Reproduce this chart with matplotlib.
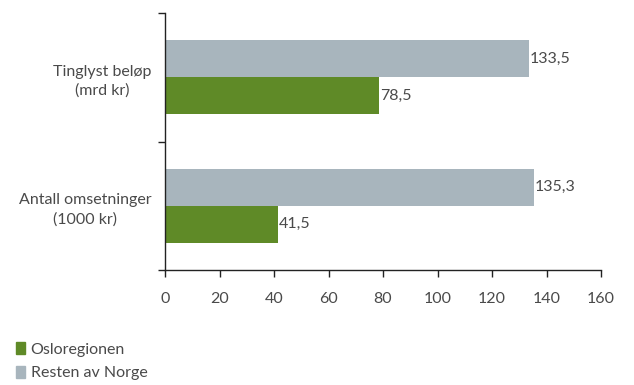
import matplotlib.pyplot as plt
from matplotlib.patches import Patch

categories = ["Antall omsetninger\n(1000 kr)", "Tinglyst beløp\n(mrd kr)"]
oslo = [41.5, 78.5]
resten = [135.3, 133.5]
xticks = [0, 20, 40, 60, 80, 100, 120, 140, 160]

green = "#5f8a27"
grey = "#a8b5bd"
txt = "#4a4a4a"
fs = 11.5

plt.rcParams["font.family"] = ["Lato", "DejaVu Sans"]

fig = plt.figure(figsize=(6.34, 3.85), dpi=100)
ax = fig.add_axes([0.2603, 0.2987, 0.948 - 0.2603, 0.966 - 0.2987])

y = list(range(len(categories)))
h = 0.29
off = 0.144
ax.barh([v - off for v in y], oslo, height=h, color=green)
ax.barh([v + off for v in y], resten, height=h, color=grey)

def fmt(v):
    return f"{v:.1f}".replace(".", ",")

for yi, a, b in zip(y, oslo, resten):
    ax.text(a + 0.3, yi - off, fmt(a), va="center", ha="left", fontsize=fs, color=txt)
    ax.text(b + 0.3, yi + off, fmt(b), va="center", ha="left", fontsize=fs, color=txt)

ax.set_xlim(0, 160)
ax.set_ylim(-0.5, 1.5)
ax.set_xticks(xticks)
ax.set_xticklabels([str(t) for t in xticks], fontsize=fs, color=txt)
ax.set_yticks(y)
ax.set_yticklabels(categories, fontsize=fs, color=txt, multialignment="center", linespacing=1.45)
ax.set_yticks([-0.5, 0.5, 1.5], minor=True)
ax.tick_params(axis="y", which="major", length=0, pad=10)
ax.tick_params(axis="y", which="minor", length=5, width=1, color="#222222")
ax.tick_params(axis="x", length=5, width=1, color="#222222", pad=11)

for s in ["top", "right"]:
    ax.spines[s].set_visible(False)
for s in ["left", "bottom"]:
    ax.spines[s].set_color("#222222")
    ax.spines[s].set_linewidth(1)

handles = [Patch(color=green, label="Osloregionen"), Patch(color=grey, label="Resten av Norge")]
fig.legend(handles=handles, loc="lower left", bbox_to_anchor=(0.003, -0.025), frameon=False,
           fontsize=fs, labelcolor=txt, handlelength=0.55, handleheight=0.8,
           handletextpad=0.35, labelspacing=0.55)

fig.savefig("out.png", dpi=100)
